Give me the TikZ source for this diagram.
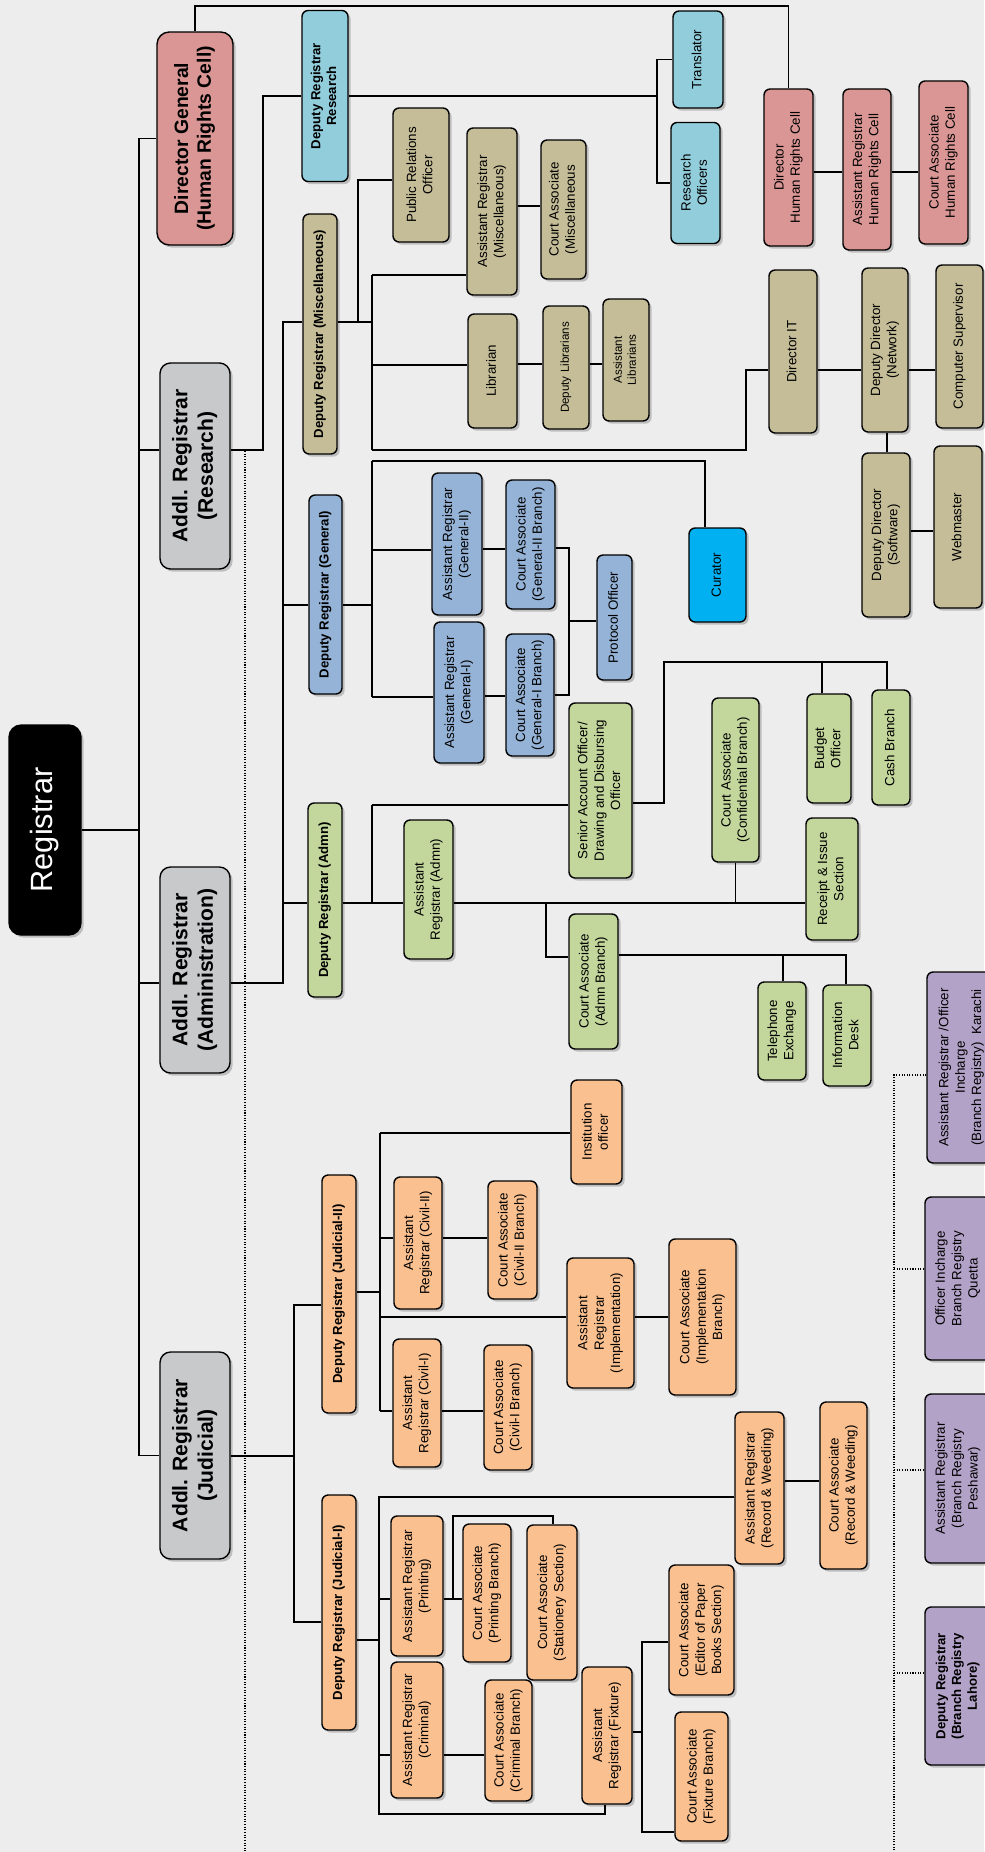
\documentclass[tikz,border=0pt]{standalone}
\usepackage{fontspec}
\setmainfont{Liberation Sans}
\usepackage{graphicx}
\usetikzlibrary{shadows}
\definecolor{bgpaper}{HTML}{EDEDED}
\definecolor{deskorange}{HTML}{FAC08F}
\definecolor{deskgreen}{HTML}{C3D69B}
\definecolor{deskblue}{HTML}{95B3D7}
\definecolor{desktan}{HTML}{C4BD97}
\definecolor{deskcyan}{HTML}{92CDDC}
\definecolor{deskpink}{HTML}{DA9694}
\definecolor{deskpurple}{HTML}{B3A2C7}
\definecolor{deskgray}{HTML}{C8C9CB}
\definecolor{curatorblue}{HTML}{00B0F0}
\newcommand{\uptext}[1]{\rotatebox{90}{\begin{tabular}{@{}c@{}}#1\end{tabular}}}

\begin{document}
\begin{tikzpicture}[x=0.02cm, y=-0.02cm,
    post/.style={draw=black, line width=0.8pt, rounded corners=3.5pt, inner sep=0pt,
      font=\fontsize{7.6}{9.3}\selectfont,
      drop shadow={shadow xshift=1.5pt, shadow yshift=-1.5pt, fill=black, opacity=0.2}},
    head/.style={post, font=\bfseries\fontsize{7.5}{9}\selectfont},
    addl/.style={post, fill=deskgray, rounded corners=6pt, font=\bfseries\fontsize{12}{14.5}\selectfont},
    tiny/.style={font=\fontsize{6.6}{8}\selectfont},
    sz/.style 2 args={minimum width=#1*0.02cm, minimum height=#2*0.02cm},
    link/.style={line width=0.65pt},
    dotlink/.style={line width=0.8pt, dash pattern=on 0.6pt off 0.9pt}]
  \useasboundingbox (0,0) rectangle (984,1852);
  \fill[bgpaper] (0,0) rectangle (984,1852);

  % top of the tree
  \node[post, fill=black, text=white, rounded corners=7pt, sz={72}{210},
    font=\fontsize{17.5}{20}\selectfont] (reg) at (45,830) {\uptext{Registrar}};
  \node[post, fill=deskpink, rounded corners=7pt, sz={76}{213},
    font=\bfseries\fontsize{11}{13}\selectfont] (dg) at (195,138.5)
    {\uptext{Director General\\(Human Rights Cell)}};
  \node[addl, sz={70}{206}] (res) at (195,466) {\uptext{Addl. Registrar\\(Research)}};
  \node[addl, sz={70}{206}] (adm) at (195,970) {\uptext{Addl. Registrar\\(Administration)}};
  \node[addl, sz={70}{207}] (jud) at (195,1455.5) {\uptext{Addl. Registrar\\(Judicial)}};

  % deputy registrars
  \node[head, fill=deskcyan, sz={46}{171}] (drres) at (325,96) {\uptext{Deputy Registrar\\Research}};
  \node[head, fill=desktan, sz={34}{240}] (drmis) at (320,334) {\uptext{Deputy Registrar (Miscellaneous)}};
  \node[head, fill=deskblue, sz={33}{199}] (drgen) at (325.5,594.5) {\uptext{Deputy Registrar (General)}};
  \node[head, fill=deskgreen, sz={34}{194}] (dradm) at (325,900) {\uptext{Deputy Registrar (Admn)}};
  \node[head, fill=deskorange, sz={34}{238}] (drj2) at (339,1294) {\uptext{Deputy Registrar (Judicial-II)}};
  \node[head, fill=deskorange, sz={34}{235}] (drj1) at (339,1612.5) {\uptext{Deputy Registrar (Judicial-I)}};

  % research and human rights cell
  \node[post, fill=deskcyan, sz={50}{97}] (transl) at (698,59.5) {\uptext{Translator}};
  \node[post, fill=deskcyan, sz={49}{121}] (resoff) at (695.5,183) {\uptext{Research\\Officers}};
  \node[post, fill=deskpink, sz={49}{157}] (dirhrc) at (788.5,167.5) {\uptext{Director\\Human Rights Cell}};
  \node[post, fill=deskpink, sz={48}{161}] (arhrc) at (867,169.5) {\uptext{Assistant Registrar\\Human Rights Cell}};
  \node[post, fill=deskpink, sz={49}{163}] (cahrc) at (943.5,162.5) {\uptext{Court Associate\\Human Rights Cell}};

  % miscellaneous
  \node[post, fill=desktan, sz={56}{134}] (pro) at (421,175) {\uptext{Public Relations\\Officer}};
  \node[post, fill=desktan, sz={50}{167}] (armis) at (492,211.5) {\uptext{Assistant Registrar\\(Miscellaneous)}};
  \node[post, fill=desktan, sz={45}{139}] (camis) at (563.5,209.5) {\uptext{Court Associate\\(Miscellaneous}};
  \node[post, fill=desktan, sz={49}{114}] (lib) at (492.5,371) {\uptext{Librarian}};
  \node[post, tiny, fill=desktan, sz={46}{123}] (deplib) at (566,367.5) {\uptext{Deputy Librarians}};
  \node[post, tiny, fill=desktan, sz={46}{122}] (asslib) at (626,360) {\uptext{Assistant\\Librarians}};
  \node[post, fill=desktan, sz={48}{163}] (dirit) at (793,351.5) {\uptext{Director IT}};
  \node[post, fill=desktan, sz={46}{164}] (ddnet) at (885,350) {\uptext{Deputy Director\\(Network)}};
  \node[post, fill=desktan, sz={47}{163}] (compsup) at (959.5,346.5) {\uptext{Computer Supervisor}};
  \node[post, fill=desktan, sz={48}{164}] (ddsoft) at (886,535) {\uptext{Deputy Director\\(Software)}};
  \node[post, fill=desktan, sz={48}{162}] (webm) at (958,527) {\uptext{Webmaster}};

  % general
  \node[post, fill=deskblue, sz={50}{142}] (argen2) at (457,544) {\uptext{Assistant Registrar\\(General-II)}};
  \node[post, fill=deskblue, sz={50}{141}] (argen1) at (459,692.5) {\uptext{Assistant Registrar\\(General-I)}};
  \node[post, fill=deskblue, sz={49}{129}] (cagen2) at (530.5,544.5) {\uptext{Court Associate\\(General-II Branch)}};
  \node[post, fill=deskblue, sz={48}{122}] (cagen1) at (530,695) {\uptext{Court Associate\\(General-I Branch)}};
  \node[post, fill=deskblue, sz={35}{125}] (protoc) at (614.5,617.5) {\uptext{Protocol Officer}};
  \node[post, fill=curatorblue, sz={57}{94}] (curator) at (717.5,575) {\uptext{Curator}};

  % administration
  \node[post, fill=deskgreen, sz={49}{139}] (aradm) at (428.5,889.5) {\uptext{Assistant\\Registrar (Admn)}};
  \node[post, fill=deskgreen, sz={63}{175}] (sao) at (600.5,790.5)
    {\uptext{Senior Account Officer/\\Drawing and Disbursing\\Officer}};
  \node[post, fill=deskgreen, sz={47}{164}] (caconf) at (735.5,780) {\uptext{Court Associate\\(Confidential Branch)}};
  \node[post, fill=deskgreen, sz={44}{109}] (budget) at (829,748.5) {\uptext{Budget\\Officer}};
  \node[post, fill=deskgreen, sz={38}{115}] (cash) at (891,747.5) {\uptext{Cash Branch}};
  \node[post, fill=deskgreen, sz={52}{122}] (receipt) at (832,879) {\uptext{Receipt \& Issue\\Section}};
  \node[post, fill=deskgreen, sz={49}{135}] (caadm) at (593.5,981.5) {\uptext{Court Associate\\(Admn Branch)}};
  \node[post, fill=deskgreen, sz={48}{98}] (telex) at (782,1031) {\uptext{Telephone\\Exchange}};
  \node[post, fill=deskgreen, sz={48}{101}] (infodesk) at (847,1035.5) {\uptext{Information\\Desk}};

  % judicial-II
  \node[post, fill=deskorange, sz={51}{104}] (inst) at (596.5,1132) {\uptext{Institution\\officer}};
  \node[post, fill=deskorange, sz={48}{132}] (arciv2) at (418,1243) {\uptext{Assistant\\Registrar (Civil-II)}};
  \node[post, fill=deskorange, sz={49}{118}] (caciv2) at (512.5,1240) {\uptext{Court Associate\\(Civil-II Branch)}};
  \node[post, fill=deskorange, sz={67}{130}] (arimp) at (600.5,1323) {\uptext{Assistant\\Registrar\\(Implementation)}};
  \node[post, fill=deskorange, sz={67}{156}] (caimp) at (702.5,1317) {\uptext{Court Associate\\(Implementation\\Branch)}};
  \node[post, fill=deskorange, sz={48}{128}] (arciv1) at (417,1403) {\uptext{Assistant\\Registrar (Civil-I)}};
  \node[post, fill=deskorange, sz={48}{125}] (caciv1) at (508,1407.5) {\uptext{Court Associate\\(Civil-I Branch)}};

  % judicial-I
  \node[post, fill=deskorange, sz={52}{140}] (arprint) at (417,1586) {\uptext{Assistant Registrar\\(Printing)}};
  \node[post, fill=deskorange, sz={48}{138}] (caprint) at (487,1593) {\uptext{Court Associate\\(Printing Branch)}};
  \node[post, fill=deskorange, sz={50}{155}] (castat) at (552,1602.5) {\uptext{Court Associate\\(Stationery Section)}};
  \node[post, fill=deskorange, sz={52}{136}] (arcrim) at (417,1730) {\uptext{Assistant Registrar\\(Criminal)}};
  \node[post, fill=deskorange, sz={47}{121}] (cacrim) at (508.5,1740.5) {\uptext{Court Associate\\(Criminal Branch)}};
  \node[post, fill=deskorange, sz={50}{137}] (arfix) at (607,1735.5) {\uptext{Assistant\\Registrar (Fixture)}};
  \node[post, fill=deskorange, sz={65}{130}] (caedit) at (701.5,1630) {\uptext{Court Associate\\(Editor of Paper\\Books Section)}};
  \node[post, fill=deskorange, sz={53}{129}] (cafix) at (701.5,1776.5) {\uptext{Court Associate\\(Fixture Branch)}};
  \node[post, fill=deskorange, sz={49}{152}] (arrw) at (759.5,1488) {\uptext{Assistant Registrar\\(Record \& Weeding)}};
  \node[post, fill=deskorange, sz={47}{167}] (carw) at (843.5,1485.5) {\uptext{Court Associate\\(Record \& Weeding)}};

  % branch registries
  \node[post, fill=deskpurple, sz={69}{191}] (karachi) at (961.5,1067.5)
    {\uptext{Assistant Registrar /Officer\\Incharge\\(Branch Registry)~~Karachi}};
  \node[post, fill=deskpurple, sz={66}{163}] (quetta) at (958,1278.5) {\uptext{Officer Incharge\\Branch Registry\\Quetta}};
  \node[post, fill=deskpurple, sz={66}{169}] (peshawar) at (958,1478.5) {\uptext{Assistant Registrar\\(Branch Registry\\Peshawar)}};
  \node[head, fill=deskpurple, sz={66}{158}] (lahore) at (958,1686) {\uptext{Deputy Registrar\\(Branch Registry\\Lahore)}};

  % registrar and additional registrars
  \coordinate (spine) at (139,0);
  \draw[link] (dg.west) -- (spine |- dg.west) -- (spine |- jud.west) -- (jud.west);
  \draw[link] (reg.east) -- (spine |- reg.east);
  \draw[link] (spine |- 0,450) -- (res.west |- 0,450);
  \draw[link] (spine |- 0,983) -- (adm.west |- 0,983);

  % research
  \coordinate (rbus) at (263,0);
  \coordinate (tbus) at (657,0);
  \draw[link] (res.east |- 0,450) -- (rbus |- 0,450) -- (rbus |- drres.west) -- (drres.west);
  \draw[link] (drres.east) -- (tbus |- drres.east);
  \draw[link] (transl.west) -- (tbus |- transl.west) -- (tbus |- resoff.west) -- (resoff.west);
  \draw[link] (dg.north) |- (dirhrc.north |- 0,6) -- (dirhrc.north);
  \foreach \a/\b in {dirhrc/arhrc, arhrc/cahrc}
    \draw[link] (\a.east |- 0,172) -- (\b.west |- 0,172);

  % administration
  \coordinate (abus) at (283,0);
  \coordinate (mbus) at (372,0);
  \draw[link] (adm.east |- 0,983) -- (abus |- 0,983) -- (abus |- 0,322) -- (drmis.west |- 0,322);
  \draw[link] (abus |- 0,605) -- (drgen.west |- 0,605);
  \draw[link] (abus |- 0,903) -- (dradm.west |- 0,903);

  % miscellaneous
  \coordinate (pbus) at (358,0);
  \draw[link] (drmis.east |- 0,322) -- (mbus |- 0,322);
  \draw[link] (pbus |- 0,322) -- (pbus |- 0,180) -- (pro.west |- 0,180);
  \draw[link] (mbus |- 0,275) -- (mbus |- 0,450);
  \draw[link] (mbus |- 0,275) -- (armis.west |- 0,275);
  \draw[link] (mbus |- 0,365) -- (lib.west |- 0,365);
  \draw[link] (armis.east |- 0,206) -- (camis.west |- 0,206);
  \foreach \a/\b in {lib/deplib, deplib/asslib}
    \draw[link] (\a.east |- 0,364) -- (\b.west |- 0,364);
  \coordinate (itbus) at (746,0);
  \draw[link] (mbus |- 0,450) -- (itbus |- 0,450) -- (itbus |- 0,370) -- (dirit.west |- 0,370);
  \foreach \a/\b in {dirit/ddnet, ddnet/compsup}
    \draw[link] (\a.east |- 0,370) -- (\b.west |- 0,370);
  \draw[link] (ddnet.south -| 887,0) -- (ddsoft.north -| 887,0);
  \draw[link] (ddsoft.east |- 0,531) -- (webm.west |- 0,531);

  % general
  \coordinate (gbus) at (569,0);
  \draw[link] (drgen.east |- 0,605) -- (mbus |- 0,605);
  \draw[link] (mbus |- 0,461) -- (mbus |- 0,697);
  \draw[link] (mbus |- 0,461) -| (curator.north -| 705,0);
  \draw[link] (mbus |- 0,550) -- (argen2.west |- 0,550);
  \draw[link] (mbus |- 0,697) -- (argen1.west |- 0,697);
  \draw[link] (argen2.east |- 0,549) -- (cagen2.west |- 0,549);
  \draw[link] (argen1.east |- 0,696) -- (cagen1.west |- 0,696);
  \draw[link] (cagen2.east |- 0,548) -- (gbus |- 0,548) -- (gbus |- 0,695) -- (cagen1.east |- 0,695);
  \draw[link] (gbus |- 0,621) -- (protoc.west |- 0,621);

  % admn
  \coordinate (sbus) at (664,0);
  \coordinate (cbus) at (546,0);
  \draw[link] (mbus |- 0,805) -- (mbus |- 0,903);
  \draw[link] (mbus |- 0,805) -- (sao.west |- 0,805);
  \draw[link] (dradm.east |- 0,903) -- (aradm.west |- 0,903);
  \draw[link] (aradm.east |- 0,903) -- (receipt.west |- 0,903);
  \draw[link] (cbus |- 0,903) -- (cbus |- 0,957) -- (caadm.west |- 0,957);
  \draw[link] (caconf.south) -- (caconf.south |- 0,903);
  \draw[link] (sao.east |- 0,803) -- (sbus |- 0,803) -- (sbus |- 0,662) -| (cash.north -| 887,0);
  \draw[link] (budget.north -| 822,0) -- (822,662);
  \draw[link] (caadm.east |- 0,955) -| (infodesk.north -| 846,0);
  \draw[link] (telex.north -| 783,0) -- (783,955);

  % judicial
  \coordinate (jbus) at (294,0);
  \coordinate (j2bus) at (380,0);
  \coordinate (j1bus) at (379,0);
  \coordinate (fbus) at (642,0);
  \draw[link] (jud.east |- 0,1456) -- (jbus |- 0,1456);
  \draw[link] (drj2.west |- 0,1305) -- (jbus |- 0,1305) -- (jbus |- 0,1622) -- (drj1.west |- 0,1622);

  \draw[link] (drj2.east |- 0,1292) -- (j2bus |- 0,1292);
  \draw[link] (j2bus |- 0,1133) -- (j2bus |- 0,1411);
  \draw[link] (j2bus |- 0,1133) -- (inst.west |- 0,1133);
  \draw[link] (j2bus |- 0,1238) -- (arciv2.west |- 0,1238);
  \draw[link] (j2bus |- 0,1317) -- (arimp.west |- 0,1317);
  \draw[link] (j2bus |- 0,1411) -- (arciv1.west |- 0,1411);
  \draw[link] (arciv2.east |- 0,1238) -- (caciv2.west |- 0,1238);
  \draw[link] (arimp.east |- 0,1317) -- (caimp.west |- 0,1317);
  \draw[link] (arciv1.east |- 0,1411) -- (caciv1.west |- 0,1411);

  \draw[link] (drj1.east |- 0,1640) -- (j1bus |- 0,1640);
  \draw[link] (arrw.west |- 0,1497) -- (j1bus |- 0,1497) -- (j1bus |- 0,1814)
    -| (arfix.south -| 605,0);
  \draw[link] (j1bus |- 0,1599) -- (arprint.west |- 0,1599);
  \draw[link] (j1bus |- 0,1755) -- (arcrim.west |- 0,1755);
  \draw[link] (arprint.east |- 0,1599) -- (caprint.west |- 0,1599);
  \draw[link] (453,1599) |- (553,1516) -- (castat.north -| 553,0);
  \draw[link] (arcrim.east |- 0,1755) -- (cacrim.west |- 0,1755);
  \draw[link] (arfix.east |- 0,1732) -- (fbus |- 0,1732);
  \draw[link] (caedit.west |- 0,1642) -- (fbus |- 0,1642) -- (fbus |- 0,1832) -- (cafix.west |- 0,1832);
  \draw[link] (arrw.east |- 0,1481) -- (carw.west |- 0,1481);

  % dotted guides
  \coordinate (dotT) at (245,451);
  \coordinate (dotB) at (245,1852);
  \coordinate (brbus) at (894,0);
  \draw[dotlink] (dotT) -- (dotB);
  \draw[dotlink] (karachi.west |- 0,1075) -- (brbus |- 0,1075) -- (brbus |- 0,1852);
  \draw[dotlink] (brbus |- 0,1269) -- (quetta.west |- 0,1269);
  \draw[dotlink] (brbus |- 0,1470) -- (peshawar.west |- 0,1470);
  \draw[dotlink] (brbus |- 0,1673) -- (lahore.west |- 0,1673);
\end{tikzpicture}
\end{document}
